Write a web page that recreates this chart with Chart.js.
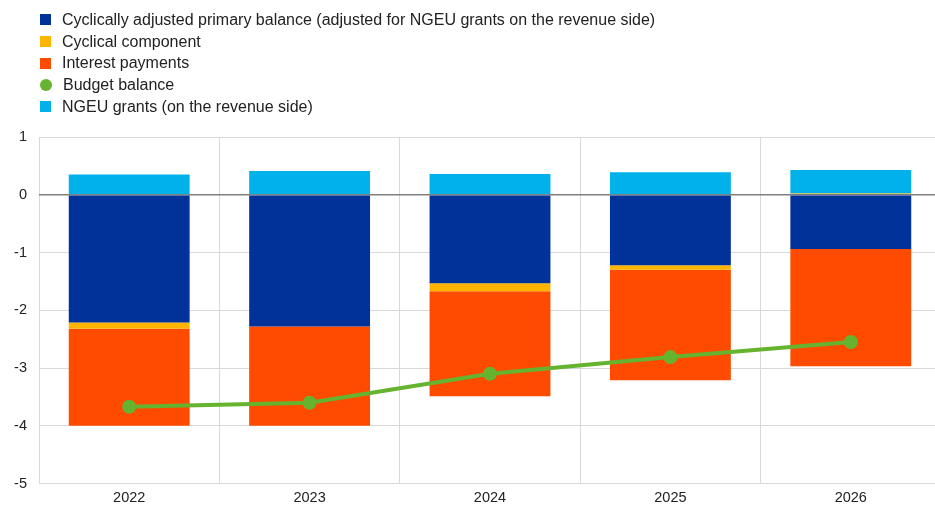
<!DOCTYPE html>
<html>
<head>
<meta charset="utf-8">
<script src="https://cdn.jsdelivr.net/npm/chart.js@4/dist/chart.umd.min.js"></script>
<style>
  html, body { margin: 0; padding: 0; background: #fff; overflow: hidden; }
  #wrap { position: relative; width: 935px; height: 508px; overflow: hidden; }
  #c { position: absolute; left: 0; top: 0; }
  #legend { position: absolute; left: 40px; top: 9px; font-family: "Liberation Sans", Arial, sans-serif; font-size: 16px; color: #222; z-index: 2; }
  .row { height: 21.7px; line-height: 21.7px; display: flex; align-items: center; white-space: nowrap; }
  .mk { width: 11px; height: 11px; margin-right: 11px; display: inline-block; flex: none; }
  .dot { border-radius: 50%; width: 12px; height: 12px; }
</style>
</head>
<body>
<div id="wrap">
  <canvas id="c" width="950" height="513"></canvas>
  <div id="legend"></div>
</div>
<script>
const years = ['2022', '2023', '2024', '2025', '2026'];
const capb = [-2.21, -2.28, -1.53, -1.22, -0.94];
const cyclical = [-0.11, 0.0, -0.14, -0.08, 0.02];
const interest = [-1.68, -1.72, -1.82, -1.91, -2.03];
const ngeu = [0.35, 0.41, 0.36, 0.39, 0.41];
const budget = [-3.67, -3.6, -3.1, -2.81, -2.55];

const legendItems = [
  ['Cyclically adjusted primary balance (adjusted for NGEU grants on the revenue side)', '#003299', false],
  ['Cyclical component', '#FFB400', false],
  ['Interest payments', '#FF4B00', false],
  ['Budget balance', '#65B32E', true],
  ['NGEU grants (on the revenue side)', '#00B1EA', false]
];
const lg = document.getElementById('legend');
legendItems.forEach(function(it) {
  const row = document.createElement('div');
  row.className = 'row';
  row.innerHTML = '<span class="mk' + (it[2] ? ' dot' : '') + '" style="background:' + it[1] + '"></span>' + it[0];
  lg.appendChild(row);
});

const tickFont = { family: '"Liberation Sans", Arial, sans-serif', size: 14.5 };

new Chart(document.getElementById('c'), {
  data: {
    labels: years,
    datasets: [
      { type: 'line', label: 'Budget balance', data: budget, stack: 'bb', borderColor: '#65B32E', backgroundColor: '#65B32E', borderWidth: 4, pointRadius: 5, pointHoverRadius: 5, order: 0 },
      { type: 'bar', label: 'CAPB', data: capb, backgroundColor: '#003299', stack: 's', order: 1 },
      { type: 'bar', label: 'Cyclical component', data: cyclical, backgroundColor: '#FFB400', stack: 's', order: 1 },
      { type: 'bar', label: 'Interest payments', data: interest, backgroundColor: '#FF4B00', stack: 's', order: 1 },
      { type: 'bar', label: 'NGEU grants', data: ngeu, backgroundColor: '#00B1EA', stack: 's', order: 1 }
    ]
  },
  options: {
    responsive: false,
    animation: false,
    layout: { padding: { top: 137, right: 0, left: 0, bottom: 0 } },
    datasets: { bar: { categoryPercentage: 1, barPercentage: 0.67 } },
    plugins: { legend: { display: false }, tooltip: { enabled: false } },
    scales: {
      x: {
        stacked: true,
        grid: { color: '#d9d9d9', lineWidth: 1, offset: true, drawTicks: false },
        border: { display: false },
        ticks: { color: '#222', font: tickFont, padding: 6 }
      },
      y: {
        stacked: true,
        min: -5, max: 1,
        afterFit: function(s) { s.width = 39; },
        grid: {
          color: function(ctx) { return ctx.tick && ctx.tick.value === 0 ? '#808080' : '#d9d9d9'; },
          lineWidth: function(ctx) { return ctx.tick && ctx.tick.value === 0 ? 1.5 : 1; },
          drawTicks: false
        },
        border: { display: false },
        ticks: { stepSize: 1, color: '#222', font: tickFont, padding: 12 }
      }
    }
  }
});
</script>
</body>
</html>
